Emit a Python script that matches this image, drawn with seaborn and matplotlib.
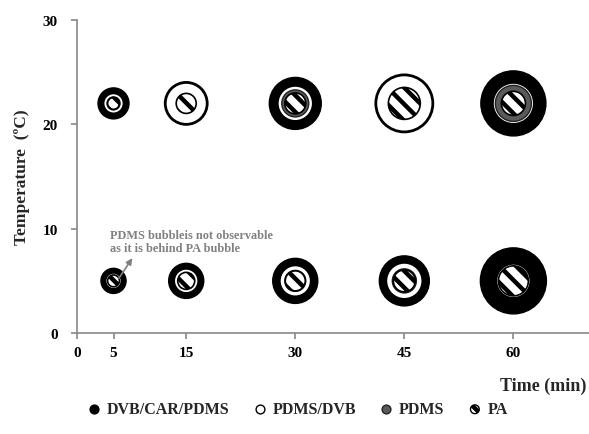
import pandas as pd
import matplotlib
matplotlib.use('Agg')
import matplotlib.pyplot as plt
import seaborn as sns

# Datos (tamaños relativos de burbuja, proporcionales al área)
times = [5, 15, 30, 45, 60]
fibers = ['DVB/CAR/PDMS', 'PDMS/DVB', 'PDMS', 'PA']
x_ticks = [0, 5, 15, 30, 45, 60]
y_ticks = [0, 10, 20, 30]

# 22 ºC
dvb_car_pdms_22 = [9.6, 15.2, 27.0, 29.2, 42.3]
pdms_dvb_22 = [4.4, 17.6, 13.0, 32.5, 17.6]
pdms_22 = [1.7, 2.3, 7.3, 6.8, 13.0]
pa_22 = [1.4, 4.0, 4.4, 10.2, 5.8]

# 5 ºC
dvb_car_pdms_5 = [6.3, 12.3, 20.3, 25.0, 43.6]
pdms_dvb_5 = [2.9, 6.3, 10.2, 13.7, 12.3]
pdms_5 = [1.0, 2.3, 4.4, 5.8, 6.8]
pa_5 = [1.4, 2.9, 4.0, 4.8, 9.0]

sizes_22 = [dvb_car_pdms_22, pdms_dvb_22, pdms_22, pa_22]
sizes_5 = [dvb_car_pdms_5, pdms_dvb_5, pdms_5, pa_5]

rows = []
for fiber, s22, s5 in zip(fibers, sizes_22, sizes_5):
    for t, a, b in zip(times, s22, s5):
        rows.append({'fiber': fiber, 'time': t, 'temp': 22, 'size': a})
        rows.append({'fiber': fiber, 'time': t, 'temp': 5, 'size': b})
df = pd.DataFrame(rows)

sns.set_theme(style='white')
plt.rcParams['font.family'] = ['Liberation Serif', 'DejaVu Serif']
plt.rcParams['hatch.linewidth'] = 3.2

# estilo de cada fibra
styles = {
    'DVB/CAR/PDMS': dict(color='black', edgecolor='black', linewidth=1.0, hatch=None),
    'PDMS/DVB': dict(color='white', edgecolor='black', linewidth=2.0, hatch=None),
    'PDMS': dict(color='#5a5a5a', edgecolor='#222222', linewidth=1.0, hatch=None),
    'PA': dict(color='white', edgecolor='black', linewidth=1.2, hatch='\\\\'),
}

VMAX = 50
AMAX = 51.84 * VMAX

fig, ax = plt.subplots(figsize=(5.89, 4.35), dpi=100)
fig.subplots_adjust(left=0.131, right=1.0, bottom=0.232, top=0.952)

for i, fiber in enumerate(fibers):
    st = styles[fiber]
    sub = df[df['fiber'] == fiber]
    sns.scatterplot(data=sub, x='time', y='temp', size='size', sizes=(0, AMAX),
                    size_norm=(0, VMAX), color=st['color'], edgecolor=st['edgecolor'],
                    linewidth=st['linewidth'], legend=False, ax=ax, zorder=2 + i)
    if st['hatch']:
        ax.collections[-1].set_hatch(st['hatch'])

ax.set_xlim(0, 70.4)
ax.set_ylim(0, 30)
ax.set_xticks(x_ticks)
ax.set_yticks(y_ticks)
ax.tick_params(axis='both', labelsize=11, colors='#888888', labelcolor='black',
               direction='out', length=4, width=1.2)
ax.tick_params(axis='x', pad=5)
ax.tick_params(axis='y', pad=10)
ax.tick_params(left=True, bottom=True)
for lab in ax.get_xticklabels() + ax.get_yticklabels():
    lab.set_fontweight('bold')

for side in ['top', 'right']:
    ax.spines[side].set_visible(False)
for side in ['left', 'bottom']:
    ax.spines[side].set_color('#888888')
    ax.spines[side].set_linewidth(1.2)

ax.set_ylabel('Temperature  (ºC)', fontsize=12.5, fontweight='bold')
ax.yaxis.set_label_coords(-0.093, 0.5)
ax.set_xlabel('Time (min)', fontsize=13, fontweight='bold', loc='right')
ax.xaxis.set_label_coords(0.995, -0.14)
ax.xaxis.label.set_verticalalignment('top')

# nota sobre la burbuja de PDMS
ax.text(4.5, 10.0, 'PDMS bubbleis not observable\nas it is behind PA bubble',
        fontsize=8.8, fontweight='bold', color='#808080', va='top', ha='left',
        linespacing=1.1)
ax.annotate('', xy=(7.8, 7.4), xytext=(5.5, 5.0),
            arrowprops=dict(arrowstyle='-|>', color='#808080', lw=1.2, mutation_scale=9),
            zorder=10)

# leyenda
handles = []
for fiber in fibers:
    st = styles[fiber]
    h = ax.scatter([], [], s=40, c=st['color'], edgecolors=st['edgecolor'],
                   linewidths=1.0, hatch=st['hatch'])
    handles.append(h)
fig.legend(handles, fibers, loc='lower center', bbox_to_anchor=(0.5, 0.005), ncol=4,
           frameon=False, handletextpad=0.0, handlelength=1.6, columnspacing=1.1,
           prop={'weight': 'bold', 'size': 11.5})

fig.savefig('out.png', dpi=100)
